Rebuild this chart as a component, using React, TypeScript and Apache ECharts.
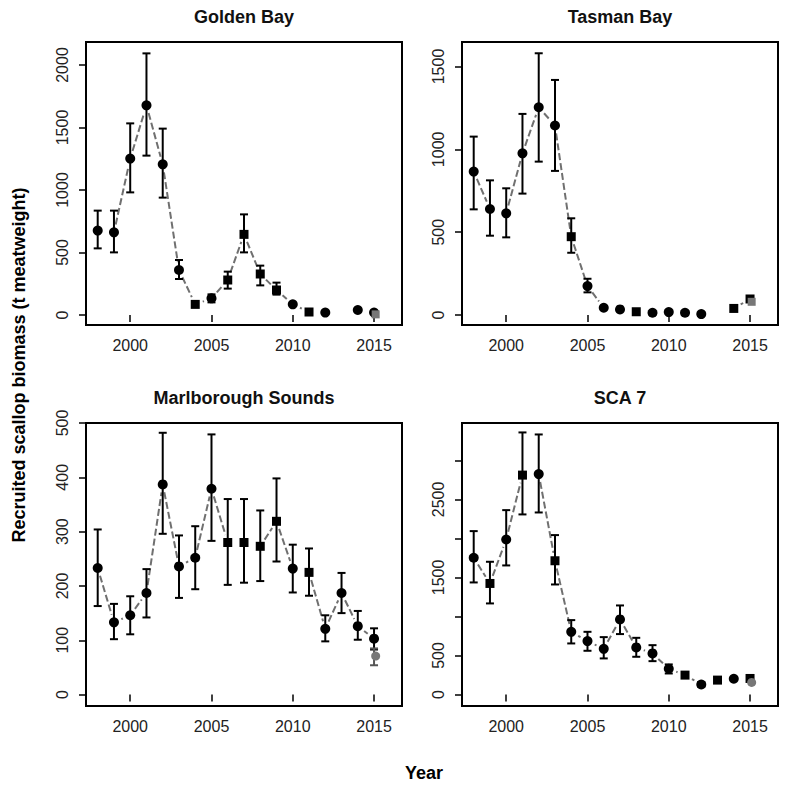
import React, { useEffect, useRef } from "react";
import * as echarts from "echarts";

// ---------- Data ----------
const gbYears = [1998, 1999, 2000, 2001, 2002, 2003, 2004, 2005, 2006, 2007, 2008, 2009, 2010, 2011, 2012, 2014, 2015];
const gbValues = [675, 661, 1251, 1677, 1205, 360, 85, 133, 280, 645, 328, 200, 85, 24, 19, 40, 19];
const gbLower = [533, 501, 981, 1275, 939, 288, null, 101, 211, 501, 237, 163, null, null, null, null, null];
const gbUpper = [835, 835, 1533, 2093, 1491, 440, null, 165, 347, 805, 395, 259, null, null, null, null, null];
const gbShapes = ["circle", "circle", "circle", "circle", "circle", "circle", "rect", "circle", "rect", "rect", "rect", "rect", "circle", "rect", "circle", "circle", "circle"];
const gbAlt = { year: 2015, value: 5, lower: null, upper: null, shape: "rect" };

const tbYears = [1998, 1999, 2000, 2001, 2002, 2003, 2004, 2005, 2006, 2007, 2008, 2009, 2010, 2011, 2012, 2014, 2015];
const tbValues = [866, 640, 614, 976, 1254, 1144, 473, 175, 44, 34, 20, 14, 18, 14, 6, 40, 97];
const tbLower = [638, 479, 469, 733, 926, 870, 376, 137, null, null, null, null, null, null, null, null, null];
const tbUpper = [1077, 813, 765, 1214, 1580, 1419, 584, 219, null, null, null, null, null, null, null, null, null];
const tbShapes = ["circle", "circle", "circle", "circle", "circle", "circle", "rect", "circle", "circle", "circle", "rect", "circle", "circle", "circle", "circle", "rect", "rect"];
const tbAlt = { year: 2015, value: 80, lower: null, upper: null, shape: "rect" };

const msYears = [1998, 1999, 2000, 2001, 2002, 2003, 2004, 2005, 2006, 2007, 2008, 2009, 2010, 2011, 2012, 2013, 2014, 2015];
const msValues = [233, 133, 146, 187, 387, 236, 252, 379, 280, 280, 273, 319, 232, 225, 121, 187, 126, 103];
const msLower = [163, 102, 111, 142, 296, 178, 194, 283, 202, 206, 209, 245, 188, 182, 98, 150, 101, 83];
const msUpper = [304, 167, 181, 231, 482, 293, 310, 479, 360, 360, 339, 398, 276, 269, 146, 224, 154, 122];
const msShapes = ["circle", "circle", "circle", "circle", "circle", "circle", "circle", "circle", "rect", "rect", "rect", "rect", "circle", "rect", "circle", "circle", "circle", "circle"];
const msAlt = { year: 2015, value: 71, lower: 54, upper: 85, shape: "circle" };

const scYears = [1998, 1999, 2000, 2001, 2002, 2003, 2004, 2005, 2006, 2007, 2008, 2009, 2010, 2011, 2012, 2013, 2014, 2015];
const scValues = [1752, 1423, 1987, 2812, 2825, 1714, 803, 684, 585, 962, 603, 526, 329, 248, 128, 184, 201, 205];
const scLower = [1436, 1167, 1654, 2308, 2333, 1410, 654, 560, 462, 774, 483, 427, 269, null, 100, null, null, null];
const scUpper = [2094, 1701, 2363, 3359, 3333, 2043, 953, 803, 735, 1141, 726, 632, 385, null, 160, null, null, null];
const scShapes = ["circle", "rect", "circle", "rect", "circle", "rect", "circle", "circle", "circle", "circle", "circle", "circle", "circle", "rect", "circle", "rect", "circle", "rect"];
const scAlt = { year: 2015, value: 154, lower: null, upper: null, shape: "circle" };

const xTicks = [2000, 2005, 2010, 2015];
const gbYTicks = [0, 500, 1000, 1500, 2000];
const tbYTicks = [0, 500, 1000, 1500];
const msYTicks = [0, 100, 200, 300, 400, 500];
const scYTicks = [0, 500, 1000, 1500, 2000, 2500, 3000];
const scYLabels = [0, 500, 1500, 2500];

const panelTitles = ["Golden Bay", "Tasman Bay", "Marlborough Sounds", "SCA 7"];
const yAxisTitle = "Recruited scallop biomass (t meatweight)";
const xAxisTitle = "Year";

// ---------- Layout ----------
const FONT = "'Liberation Sans', Arial, Helvetica, sans-serif";
const GRID_W = 316;
const GRID_H = 283;

const panels = [
  { left: 86, top: 42, years: gbYears, values: gbValues, lower: gbLower, upper: gbUpper, shapes: gbShapes, alt: gbAlt, yMin: -80, yMax: 2184, yTicks: gbYTicks, yLabels: gbYTicks },
  { left: 462, top: 42, years: tbYears, values: tbValues, lower: tbLower, upper: tbUpper, shapes: tbShapes, alt: tbAlt, yMin: -60, yMax: 1648, yTicks: tbYTicks, yLabels: tbYTicks },
  { left: 86, top: 423, years: msYears, values: msValues, lower: msLower, upper: msUpper, shapes: msShapes, alt: msAlt, yMin: -21, yMax: 500, yTicks: msYTicks, yLabels: msYTicks },
  { left: 462, top: 423, years: scYears, values: scValues, lower: scLower, upper: scUpper, shapes: scShapes, alt: scAlt, yMin: -148, yMax: 3480, yTicks: scYTicks, yLabels: scYLabels },
];

function buildOption() {
  const grid: any[] = [];
  const xAxis: any[] = [];
  const yAxis: any[] = [];
  const series: any[] = [];
  const graphic: any[] = [];

  panels.forEach((p, i) => {
    grid.push({
      left: p.left,
      top: p.top,
      width: GRID_W,
      height: GRID_H,
      show: true,
      borderColor: "#000",
      borderWidth: 2,
      backgroundColor: "transparent",
    });
    xAxis.push({
      type: "value",
      gridIndex: i,
      min: 1997.28,
      max: 2016.72,
      axisLine: { show: false },
      splitLine: { show: false },
      axisTick: { show: true, customValues: xTicks, length: 7, inside: false, lineStyle: { color: "#000", width: 1.5 } },
      axisLabel: { show: true, customValues: xTicks, fontSize: 16, color: "#222", fontFamily: FONT, margin: 12, formatter: (v: number) => String(v) },
    });
    yAxis.push({
      type: "value",
      gridIndex: i,
      min: p.yMin,
      max: p.yMax,
      axisLine: { show: false },
      splitLine: { show: false },
      axisTick: { show: true, customValues: p.yTicks, length: 7, inside: false, lineStyle: { color: "#000", width: 1.5 } },
      axisLabel: { show: true, customValues: p.yLabels, rotate: 90, fontSize: 16, color: "#222", fontFamily: FONT, margin: 16, formatter: (v: number) => String(v) },
    });

    // connecting line segments (type "b" style, with gaps around points)
    const segs: number[][] = [];
    for (let k = 0; k < p.years.length - 1; k++) {
      if (p.years[k + 1] === p.years[k] + 1) {
        segs.push([p.years[k], p.values[k], p.years[k + 1], p.values[k + 1]]);
      }
    }
    series.push({
      type: "custom",
      xAxisIndex: i,
      yAxisIndex: i,
      silent: true,
      encode: { x: [0, 2], y: [1, 3] },
      data: segs,
      renderItem: (params: any, api: any) => {
        const a = api.coord([api.value(0), api.value(1)]);
        const b = api.coord([api.value(2), api.value(3)]);
        const dx = b[0] - a[0];
        const dy = b[1] - a[1];
        const len = Math.sqrt(dx * dx + dy * dy);
        const gap = 8;
        if (len <= gap * 2 + 1) return null;
        const ux = dx / len;
        const uy = dy / len;
        return {
          type: "line",
          shape: { x1: a[0] + ux * gap, y1: a[1] + uy * gap, x2: b[0] - ux * gap, y2: b[1] - uy * gap },
          style: { stroke: "#707070", lineWidth: 2, lineDash: [7, 3] },
        };
      },
      z: 1,
    });

    // error bars
    const errData: number[][] = [];
    p.years.forEach((y, k) => {
      if (p.lower[k] != null && p.upper[k] != null) errData.push([y, p.lower[k] as number, p.upper[k] as number]);
    });
    const errRender = (color: string) => (params: any, api: any) => {
      const lo = api.coord([api.value(0), api.value(1)]);
      const hi = api.coord([api.value(0), api.value(2)]);
      const cw = 4;
      return {
        type: "group",
        children: [
          { type: "line", shape: { x1: lo[0], y1: lo[1], x2: hi[0], y2: hi[1] }, style: { stroke: color, lineWidth: 2 } },
          { type: "line", shape: { x1: lo[0] - cw, y1: lo[1], x2: lo[0] + cw, y2: lo[1] }, style: { stroke: color, lineWidth: 2 } },
          { type: "line", shape: { x1: hi[0] - cw, y1: hi[1], x2: hi[0] + cw, y2: hi[1] }, style: { stroke: color, lineWidth: 2 } },
        ],
      };
    };
    series.push({
      type: "custom",
      xAxisIndex: i,
      yAxisIndex: i,
      silent: true,
      encode: { x: 0, y: [1, 2] },
      data: errData,
      renderItem: errRender("#000"),
      z: 2,
    });

    // points
    series.push({
      type: "scatter",
      xAxisIndex: i,
      yAxisIndex: i,
      silent: true,
      data: p.years.map((y, k) => ({
        value: [y, p.values[k]],
        symbol: p.shapes[k],
        symbolSize: p.shapes[k] === "rect" ? 9 : 10,
      })),
      itemStyle: { color: "#000", opacity: 1 },
      z: 3,
    });

    // alternative (grey) estimate
    if (p.alt.lower != null && p.alt.upper != null) {
      series.push({
        type: "custom",
        xAxisIndex: i,
        yAxisIndex: i,
        silent: true,
        encode: { x: 0, y: [1, 2] },
        data: [[p.alt.year, p.alt.lower, p.alt.upper]],
        renderItem: errRender("#555"),
        z: 4,
      });
    }
    series.push({
      type: "scatter",
      xAxisIndex: i,
      yAxisIndex: i,
      silent: true,
      data: [{ value: [p.alt.year + 0.1, p.alt.value], symbol: p.alt.shape, symbolSize: p.alt.shape === "rect" ? 8 : 9 }],
      itemStyle: { color: "#777", opacity: 1 },
      z: 5,
    });

    graphic.push({
      type: "text",
      x: p.left + GRID_W / 2,
      y: p.top - 25,
      style: {
        text: panelTitles[i],
        fontSize: 18,
        fontWeight: "bold",
        fontFamily: FONT,
        fill: "#111",
        textAlign: "center",
        textVerticalAlign: "middle",
      },
    });
  });

  graphic.push({
    type: "text",
    x: 19,
    y: 365,
    rotation: Math.PI / 2,
    style: {
      text: yAxisTitle,
      fontSize: 18,
      fontWeight: "bold",
      fontFamily: FONT,
      fill: "#000",
      textAlign: "center",
      textVerticalAlign: "middle",
    },
  });
  graphic.push({
    type: "text",
    x: 424,
    y: 773,
    style: {
      text: xAxisTitle,
      fontSize: 18,
      fontWeight: "bold",
      fontFamily: FONT,
      fill: "#000",
      textAlign: "center",
      textVerticalAlign: "middle",
    },
  });

  return {
    animation: false,
    backgroundColor: "#fff",
    grid,
    xAxis,
    yAxis,
    series,
    graphic,
  };
}

export default function App() {
  const ref = useRef<HTMLDivElement>(null);
  useEffect(() => {
    if (!ref.current) return;
    const chart = echarts.init(ref.current, null, { renderer: "svg" });
    chart.setOption(buildOption() as any);
    return () => chart.dispose();
  }, []);
  return <div ref={ref} style={{ position: "absolute", left: 0, top: 0, width: 800, height: 803 }} />;
}
